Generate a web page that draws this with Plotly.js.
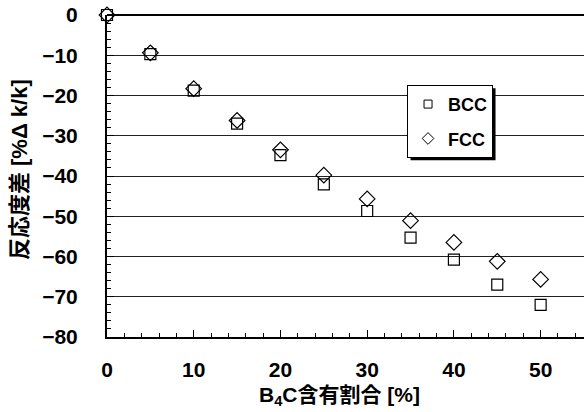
<!DOCTYPE html>
<html>
<head>
<meta charset="utf-8">
<script src="https://cdn.plot.ly/plotly-3.0.1.min.js"></script>
<style>html,body{margin:0;padding:0;background:#fff;}#chart{width:584px;height:412px;}</style>
</head>
<body>
<div id="chart"></div>
<script>
const b4cContent = [0, 5, 10, 15, 20, 25, 30, 35, 40, 45, 50];
const bccValues = [0, -9.7, -18.8, -27.0, -34.8, -42.1, -48.7, -55.3, -60.8, -67.0, -72.0];
const fccValues = [0, -9.4, -18.3, -26.2, -33.5, -39.8, -45.7, -51.1, -56.5, -61.2, -65.7];
const yTicks = [0, -10, -20, -30, -40, -50, -60, -70, -80];
const xTicks = [0, 10, 20, 30, 40, 50];
const seriesNames = ['BCC', 'FCC'];
const xTitle = 'B<sub>4</sub>C含有割合 [%]';
const yTitle = '反応度差 [%Δ k/k]';

const FONT = '"Liberation Sans", "Noto Sans CJK JP", sans-serif';

const traces = [
  {
    x: b4cContent, y: bccValues, name: seriesNames[0], type: 'scatter', mode: 'markers',
    showlegend: false, cliponaxis: false,
    marker: {symbol: 'square-open', size: 11, color: '#000', line: {width: 1.2, color: '#000'}}
  },
  {
    x: b4cContent, y: fccValues, name: seriesNames[1], type: 'scatter', mode: 'markers',
    showlegend: false, cliponaxis: false,
    marker: {symbol: 'diamond-open', size: 12, color: '#000', line: {width: 1.2, color: '#000'}}
  },
  {
    x: [null], y: [null], name: seriesNames[0], type: 'scatter', mode: 'markers',
    legendgroup: 'a',
    marker: {symbol: 'square-open', size: 8, color: '#000', line: {width: 1, color: '#000'}}
  },
  {
    x: [null], y: [null], name: seriesNames[1], type: 'scatter', mode: 'markers',
    legendgroup: 'b',
    marker: {symbol: 'diamond-open', size: 9, color: '#000', line: {width: 1, color: '#000'}}
  }
];

const layout = {
  width: 584, height: 412,
  margin: {l: 107, r: 0, t: 15, b: 75},
  paper_bgcolor: '#fff', plot_bgcolor: '#fff',
  font: {family: FONT, color: '#000', size: 17, weight: 700},
  showlegend: true,
  legend: {
    x: 0.629, y: 0.783, xanchor: 'left', yanchor: 'top',
    bgcolor: '#fff', bordercolor: '#000', borderwidth: 1,
    font: {family: FONT, size: 18, weight: 700, color: '#000'},
    tracegroupgap: 8, traceorder: 'grouped', itemwidth: 30
  },
  shapes: [
    {type: 'rect', xref: 'paper', yref: 'paper', x0: 0.635, x1: 0.818, y0: 0.547, y1: 0.773,
     fillcolor: '#000', line: {width: 0}, layer: 'above'}
  ],
  annotations: [
    {text: yTitle, xref: 'paper', yref: 'paper', x: -0.182, y: 0.519, textangle: -90,
     showarrow: false, xanchor: 'center', yanchor: 'middle',
     font: {family: FONT, size: 22, weight: 700, color: '#000'}},
    {text: xTitle, xref: 'paper', yref: 'paper', x: 0.488, y: -0.183,
     showarrow: false, xanchor: 'center', yanchor: 'middle',
     font: {family: FONT, size: 21, weight: 700, color: '#000'}}
  ],
  xaxis: {
    range: [0, 55], tickvals: xTicks, ticktext: xTicks.map(String),
    ticks: 'inside', ticklen: 7, tickwidth: 1, tickcolor: '#000',
    minor: {dtick: 2, ticks: 'inside', ticklen: 4, tickcolor: '#000'},
    showline: true, linecolor: '#000', linewidth: 2,
    showgrid: false, zeroline: false,
    ticklabelstandoff: 13,
    tickfont: {family: FONT, size: 21, weight: 700}
  },
  yaxis: {
    range: [-80, 0], tickvals: yTicks, ticktext: yTicks.map(v => v === 0 ? '0' : '\u2212' + Math.abs(v)),
    ticks: 'inside', ticklen: 7, tickwidth: 1, tickcolor: '#000',
    minor: {dtick: 2, ticks: 'inside', ticklen: 4, tickcolor: '#000'},
    showline: true, linecolor: '#000', linewidth: 2,
    showgrid: true, gridcolor: '#222', gridwidth: 1,
    zeroline: true, zerolinecolor: '#000', zerolinewidth: 2,
    ticklabelstandoff: 23,
    tickfont: {family: FONT, size: 21, weight: 700}
  }
};

const gd = document.getElementById('chart');
Plotly.newPlot(gd, traces, layout, {displayModeBar: false, staticPlot: true}).then(function () {
  // place the legend's drop shadow 3px below-right of the drawn legend box
  const bg = gd.querySelector('.legend .bg');
  if (!bg) return;
  const r = bg.getBoundingClientRect();
  const c = gd.getBoundingClientRect();
  const s = gd._fullLayout._size;
  const off = 3;
  const px2x = p => (p - s.l) / s.w;
  const px2y = p => 1 - (p - s.t) / s.h;
  const left = r.left - c.left, right = r.right - c.left;
  const top = r.top - c.top, bottom = r.bottom - c.top;
  return Plotly.relayout(gd, {
    'shapes[0].x0': px2x(left + off), 'shapes[0].x1': px2x(right + off),
    'shapes[0].y0': px2y(bottom + off), 'shapes[0].y1': px2y(top + off)
  });
});
</script>
</body>
</html>
